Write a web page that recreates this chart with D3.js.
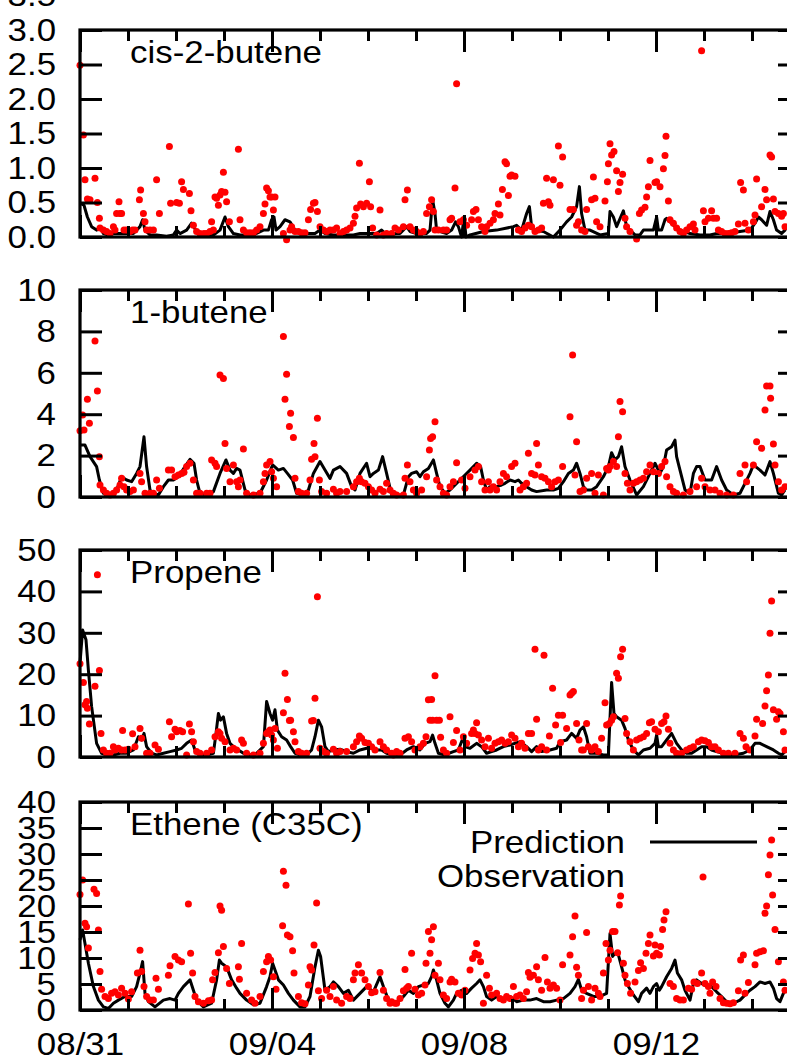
<!DOCTYPE html>
<html><head><meta charset="utf-8">
<script src="https://cdn.jsdelivr.net/npm/d3@7"></script>
<style>body{margin:0;background:#fff}svg{display:block;overflow:hidden}</style>
</head><body>
<svg id="chart" width="787" height="1063"></svg>
<script>
// ---------------- data ----------------
const seriesNames = ["cis-2-butene", "1-butene", "Propene", "Ethene (C35C)"];
const legendLabels = ["Prediction", "Observation"];
const startDay = "2012/08/31", endDay = "2012/09/15";
const majorTickLabels = ["08/31", "09/04", "09/08", "09/12"];
const yMaxes = [3, 10, 50, 40];
const cisTicks = [0, 0.5, 1, 1.5, 2, 2.5, 3, 3.5];
const buteneTicks = [0, 2, 4, 6, 8, 10];
const propeneTicks = [0, 10, 20, 30, 40, 50];
const etheneTicks = [0, 5, 10, 15, 20, 25, 30, 35, 40];
const tickFormats = [".1f", "d", "d", "d"];

// [hours since 08/31 00:00, value]
const cis2ButeneObs = [[0,2.49],[1.7,1.48],[2.5,0.83],[3.7,0.55],[5,0.54],[7.5,0.85],[8.7,0.50],[9.7,0.27],[10,0.13],[11.7,0.10],[13.3,0.08],[15,0.05],[16.7,0.15],[17.5,0.10],[18.3,0.34],[19.5,0.51],[20,0.34],[20.8,0.34],[22,0.10],[23.3,0.10],[25,0.08],[26.3,0.10],[27.5,0.10],[29.7,0.54],[30.3,0.68],[31.7,0.34],[32.5,0.22],[33.3,0.10],[35,0.10],[36.7,0.10],[38.3,0.83],[39.7,0.34],[44.7,1.31],[45.3,0.49],[48.3,0.50],[49.7,0.49],[50.8,0.80],[51.7,0.69],[54.7,0.63],[55.5,0.38],[56.7,0.17],[58.3,0.08],[60,0.05],[62,0.05],[63.3,0.05],[65,0.08],[65.8,0.22],[66.7,0.10],[67.5,0.58],[68.3,0.56],[69.2,0.46],[70,0.61],[70.8,0.66],[71.7,0.94],[72.5,0.65],[73.3,0.51],[74.7,0.22],[79.2,1.27],[80,0.25],[81.7,0.10],[83.3,0.06],[85,0.06],[86.7,0.06],[88.3,0.10],[90,0.15],[91.7,0.34],[92.5,0.48],[93.3,0.71],[94.2,0.67],[95,0.58],[95.8,0.58],[96.7,0.39],[97.5,0.58],[101.7,0.05],[103.3,-0.04],[105,0.10],[105.8,0.15],[107.5,0.08],[109.2,0.08],[110.8,0.06],[112.5,0.06],[114.2,0.25],[115.3,0.40],[116.7,0.49],[117.5,0.50],[118.7,0.37],[120,0.15],[121.7,0.10],[123.3,0.08],[125,0.10],[126.7,0.10],[128.3,0.13],[130,0.05],[131.7,0.08],[133.3,0.10],[135,0.13],[136.7,0.20],[137.5,0.30],[138.3,0.42],[139.7,1.07],[140.3,0.48],[141.7,0.44],[143.3,0.49],[144.7,0.80],[145.3,0.44],[146.3,0.13],[148.3,0.03],[150,0.39],[151.7,0.03],[153.3,0.05],[155.8,0.05],[157.5,0.13],[159.2,0.10],[161.7,0.15],[162.5,0.54],[163.7,0.68],[165,0.15],[166.7,0.10],[168.3,0.08],[170,0.05],[171.7,0.08],[173.3,0.34],[174.7,0.44],[175.8,0.54],[176.7,0.37],[177.5,0.10],[179.2,0.10],[181.7,0.10],[183.3,0.10],[185,0.25],[185.8,0.27],[187.5,0.71],[188.3,2.22],[190,0.22],[191.7,0.25],[193.3,0.17],[195.8,0.25],[196.7,0.37],[198,0.40],[199.2,0.25],[200.8,0.15],[202.5,0.08],[203.3,0.15],[205,0.20],[206.7,0.25],[207.5,0.34],[209.2,0.48],[210,0.32],[211.2,0.69],[212.5,1.09],[213.3,1.06],[214.2,0.60],[215,0.88],[215.8,0.90],[217.5,0.88],[219.2,0.10],[220.8,0.08],[222.5,0.13],[224.2,0.17],[225.8,0.15],[227.5,0.08],[229.2,0.10],[230.8,0.13],[231.7,0.49],[233.3,0.85],[234.2,0.51],[235,0.46],[236.7,0.83],[239.2,1.32],[240,0.75],[241.3,1.16],[245,0.40],[246.7,0.40],[248.3,0.17],[249.2,0.22],[250.8,0.10],[252.5,0.08],[253.3,0.40],[255.8,0.54],[256.7,0.87],[257.5,0.56],[258.3,0.22],[260,0.15],[262.5,0.52],[263.7,0.80],[264.2,1.06],[265,1.35],[265.8,1.19],[267,1.24],[268.3,0.96],[269.2,0.66],[270,0.79],[271.3,0.91],[272.5,0.27],[273.3,0.15],[275,0.08],[278.3,-0.03],[279.7,0.34],[280.8,0.39],[282.5,0.43],[283.3,0.58],[284.2,0.73],[285,1.11],[287.5,0.79],[288.3,0.80],[290,0.73],[291.7,0.99],[292.5,1.18],[293,1.46],[294.2,0.52],[295,0.25],[296.7,0.20],[298.3,0.13],[300,0.08],[301.7,0.05],[303.3,0.10],[305,0.15],[306.7,0.19],[307.5,0.10],[310.8,2.70],[311.7,0.38],[312.5,0.22],[314.2,0.27],[315.8,0.38],[316.7,0.27],[318.3,0.27],[319.2,0.10],[320.8,0.08],[322.5,0.05],[324.2,0.05],[325.8,0.06],[327.5,0.08],[329.2,0.19],[330.3,0.79],[331.7,0.68],[332.5,0.20],[334.2,0.10],[336.7,0.22],[337.5,0.32],[338.3,0.84],[340.8,0.44],[342.5,0.69],[343.3,0.54],[345,1.19],[345.8,1.16],[346.7,0.55],[347.5,0.37],[349.2,0.34],[350.8,0.30],[351.7,0.34],[352.5,0.15]];
const cis2ButenePred = [[0,0.49],[2,0.46],[3.7,0.29],[5.8,0.15],[8.3,0.10],[10,0.15],[11.7,0.05],[14.2,0.03],[16.7,0.05],[20,0.05],[23.3,0.05],[26.7,0.05],[30,0.15],[31.3,0.25],[32.5,0.10],[35,0.03],[38.3,0.03],[43.3,0.01],[46.7,0.03],[48.3,0.10],[50,0.05],[53.3,0.10],[55.8,0.20],[58.3,0.08],[61.7,0.03],[66.7,0.03],[70,0.10],[72.5,0.29],[74.2,0.15],[76.7,0.05],[80,0.03],[86.7,0.03],[91.7,0.10],[94.2,0.10],[95.8,0.25],[97,0.29],[98,0.10],[100,0.15],[102.5,0.25],[105,0.22],[107.5,0.10],[110,0.05],[113.3,0.05],[117.5,0.05],[120,0.10],[122.5,0.05],[126.7,0.03],[131.7,0.03],[136.7,0.03],[140,0.05],[143.3,0.05],[148.3,0.05],[150.8,0.10],[153.3,0.03],[158.3,0.05],[160,0.05],[163.3,0.15],[165,0.08],[168.3,0.05],[173.3,0.05],[175,0.10],[176.3,0.54],[177.5,0.34],[178.3,0.10],[180,0.08],[183.3,0.05],[185.8,0.10],[187.8,0.22],[189.2,0.15],[190.8,0.00],[192,0.29],[193,0.00],[195,0.03],[201.7,0.08],[208.3,0.10],[216.7,0.15],[218.3,0.17],[220.8,0.10],[223.3,0.34],[224.7,0.44],[225.8,0.15],[226.7,0.10],[231.7,0.08],[236.7,0.00],[240,0.10],[243.3,0.22],[245.8,0.29],[248.3,0.44],[249.7,0.73],[250.8,0.34],[252.5,0.10],[255,0.10],[260,0.03],[264.2,0.05],[265,0.37],[266.7,0.29],[268.3,0.15],[271.7,0.38],[273.3,0.15],[275,0.10],[277.5,0.03],[280,0.03],[281.7,0.10],[286.7,0.10],[288.3,0.29],[289.2,0.10],[290.8,0.10],[292.5,0.25],[293.3,0.27],[296.7,0.17],[300,0.10],[305,0.05],[310,0.03],[315,0.03],[318.3,0.05],[323.3,0.05],[330,0.08],[335,0.10],[337.5,0.20],[339.2,0.29],[340.8,0.25],[343.3,0.17],[345,0.37],[346.7,0.25],[348.3,0.10],[350.8,0.05],[352.5,0.10],[353.3,0.15]];

const butene1Obs = [[0,3.2],[1.3,3.96],[2,3.24],[3.7,4.72],[4.7,3.56],[7.5,7.54],[8.7,5.12],[9.7,1.95],[10,0.58],[11.7,0.34],[13.3,0.18],[15,0.10],[16.7,0.18],[18.3,0.34],[20,0.58],[20.8,0.90],[22,0.50],[23.3,0.34],[25,0.26],[26.7,0.34],[30,1.14],[30.8,0.74],[32.5,0.18],[35,0.18],[36.7,0.18],[38.3,0.82],[39.7,0.42],[44.2,1.30],[45.8,1.30],[47.5,0.98],[49.2,1.06],[50.8,1.14],[52,1.19],[53.3,1.47],[55,1.63],[56.7,0.82],[58.3,0.18],[60,0.18],[63.3,0.18],[65,0.18],[65.8,1.79],[67.5,1.63],[68.3,1.47],[70,5.89],[71.7,5.73],[72.5,2.59],[73.3,1.38],[75,0.74],[76.7,1.55],[78.3,0.74],[79.2,0.50],[80,0.82],[81.7,2.32],[83.3,0.18],[86.7,0.10],[90,0.18],[91.7,0.74],[92.5,1.14],[93.3,1.55],[95,1.71],[95.8,1.22],[96.7,0.90],[98.3,0.50],[101.7,7.75],[102.5,4.72],[103.3,5.93],[104.7,3.40],[105.3,4.04],[106.7,2.87],[107.5,0.90],[109.2,0.26],[110.8,0.18],[113.3,0.18],[115,0.82],[115.8,1.82],[117,2.59],[117.5,1.95],[118.7,3.80],[119.7,0.82],[120.8,0.26],[123.3,0.18],[126.7,0.37],[128.3,0.18],[130,0.26],[133.3,0.26],[136.7,0.50],[138.3,0.74],[139.7,0.90],[140.8,0.74],[142.5,0.66],[144.2,0.50],[145.8,0.34],[147.5,0.18],[150,0.37],[151.7,0.26],[153.3,0.66],[155,0.34],[156.7,0.18],[158.3,0.10],[161.7,0.10],[162.5,0.90],[163.7,1.55],[165,0.74],[166.7,0.34],[168.3,0.18],[170.8,0.34],[173.3,0.98],[174.7,2.27],[175.3,2.83],[176.3,2.91],[177.5,3.64],[178.3,0.82],[180,0.50],[181.7,0.18],[183.3,0.10],[185,0.50],[186.7,0.74],[188.3,1.66],[190.8,0.82],[192.5,0.42],[195,0.98],[197.5,1.30],[199.2,1.47],[200.8,0.74],[202.5,0.34],[204.2,0.74],[205,0.34],[206.7,0.50],[208.3,0.34],[210,0.74],[211.7,1.14],[213.3,0.98],[215.8,1.47],[217.5,1.63],[220,0.34],[221.7,0.50],[223.3,0.66],[224.2,2.11],[225.8,1.14],[227.5,1.06],[228.3,2.59],[229.2,1.55],[230.8,0.98],[232.5,0.90],[234.2,0.74],[235.8,0.50],[237.5,0.74],[239.2,0.82],[241.3,1.47],[245,3.88],[246.3,6.86],[247.5,1.06],[248.3,2.67],[250,0.26],[251.7,0.34],[253.3,0.90],[255.8,1.14],[257.5,0.18],[259.2,1.06],[261.7,0.10],[263.3,1.38],[264.2,1.30],[265,1.47],[266.7,1.71],[268.3,1.47],[269.2,2.91],[270,4.61],[271.3,4.12],[272.5,1.14],[273.7,0.66],[275,0.34],[276.7,0.66],[278.3,0.74],[280,0.82],[281.7,0.90],[283.3,1.22],[285,1.55],[286.7,1.22],[289.2,1.14],[290.8,1.47],[292.5,1.71],[293.3,0.98],[295,0.50],[296.7,0.26],[298.3,0.18],[301.7,0.10],[305,0.26],[308.3,0.50],[310.8,0.90],[312.5,0.50],[315,0.34],[317.5,0.34],[320,0.18],[323.3,0.10],[326.7,0.10],[330,1.14],[332.5,1.55],[333.3,0.74],[336.7,1.55],[338.3,2.67],[340.8,2.35],[342.5,4.20],[343.3,5.36],[345,5.36],[345.3,4.77],[346.7,2.56],[347.5,1.55],[349.2,0.74],[350.8,0.34],[352.5,0.50]];
const butene1Pred = [[0,2.51],[2.5,2.51],[5,1.95],[8.3,1.47],[9.7,0.82],[11.7,0.18],[15,0.10],[18.3,0.34],[20.8,0.98],[23.3,0.82],[25.8,0.74],[28.3,1.14],[30,1.47],[32,2.91],[33.3,1.47],[35,0.34],[36.7,0.18],[39.2,0.10],[41.7,0.50],[44.2,0.82],[46.7,0.82],[49.2,0.98],[52.5,1.47],[55,1.82],[57,1.63],[58.3,0.82],[60,0.18],[63.3,0.10],[66.7,0.26],[70,1.14],[73,1.79],[75,1.30],[76.7,1.14],[78.3,1.38],[80,1.30],[82.5,0.34],[85,0.10],[90,0.18],[93.3,0.82],[96.3,1.55],[99.2,1.30],[101.7,1.38],[103.7,1.14],[106.3,0.82],[108.3,0.18],[111.7,0.10],[114.2,0.34],[116.7,1.14],[120,1.71],[122.5,1.30],[125,0.90],[126.7,1.30],[130,1.47],[133.3,1.14],[135.8,0.50],[137.5,0.34],[140,1.14],[143.3,1.63],[145,0.98],[146.7,1.14],[149.2,1.30],[151.3,1.95],[153.3,1.14],[155.8,0.10],[158.3,0.10],[161.7,0.10],[164.2,0.98],[165.8,1.14],[168.3,1.22],[170,0.98],[171.7,1.22],[174.2,1.38],[176.7,1.79],[178.3,1.14],[180,0.50],[182.5,0.18],[185,0.34],[187.5,0.58],[190,0.82],[192.5,1.06],[195,1.30],[198.3,1.63],[200.3,1.47],[201.7,0.82],[203.3,0.34],[205,0.50],[208.3,0.50],[210.8,0.58],[212.5,0.66],[215,0.82],[217.5,0.74],[219.2,0.82],[220.8,0.66],[223.3,0.50],[225.8,0.34],[228.3,0.26],[233.3,0.34],[236.7,0.34],[239.2,0.42],[241.7,0.74],[244.2,1.14],[246.7,1.30],[248.3,1.63],[250,1.14],[251.7,0.50],[253.3,0.34],[255.8,0.34],[258.3,0.50],[261.7,0.98],[264.2,1.47],[265.8,2.14],[267.5,1.79],[269.2,1.95],[270.8,2.43],[272.5,1.47],[275,0.82],[278.3,0.10],[281.7,0.50],[285,1.14],[287.5,1.63],[290,1.14],[291.7,1.47],[293.3,2.27],[295.8,2.43],[297.5,2.75],[298.3,1.95],[300,1.30],[302.5,0.34],[305,0.18],[306.7,1.14],[308.3,1.47],[310,1.47],[312.5,0.82],[315.8,0.82],[318.3,1.47],[320.8,0.82],[323.3,0.34],[326.7,0.10],[330,0.18],[332.5,0.66],[335,1.14],[336.7,1.55],[340,1.30],[342.5,1.06],[345,1.71],[346.7,1.14],[349.2,0.18],[350.8,0.10],[352.5,0.34]];

const propeneObs = [[0,22.5],[1.7,18.0],[2.5,12.6],[3.3,13.4],[3.7,11.8],[4.7,8.0],[7.5,17.1],[8.7,44.0],[9.7,20.9],[10.5,5.7],[11.7,1.7],[13.3,0.9],[15,0.9],[16.7,2.5],[17.5,1.7],[19.2,2.1],[20.8,1.7],[21.3,6.4],[22.5,1.7],[24.2,1.9],[26.3,5.6],[27.5,2.5],[30,6.9],[30.8,4.5],[33.3,0.9],[35,0.9],[37.5,2.9],[39.2,1.9],[44.7,8.5],[45.8,4.9],[47.5,6.7],[48.3,6.1],[50,6.4],[51.3,6.1],[53.3,0.5],[54.7,8.0],[55.8,6.1],[56.7,3.7],[58.3,1.3],[60,0.9],[63.3,0.9],[65.8,1.7],[67.5,4.9],[69.2,6.1],[70,5.7],[70.8,4.5],[72.5,3.7],[75,1.7],[76.7,2.1],[78.3,1.7],[80.8,4.1],[81.7,3.3],[83.3,0.9],[86.7,0.5],[90,0.9],[91.7,3.3],[93.3,5.7],[94.2,6.1],[95,6.5],[95.8,5.3],[96.7,4.1],[97.5,6.9],[98.7,2.1],[101.7,10.7],[102.5,20.2],[103.7,13.9],[104.7,8.8],[105.3,8.9],[106.7,6.1],[107.5,3.7],[109.2,1.3],[110.8,0.9],[113.3,0.9],[115.8,8.7],[116.7,8.8],[117.5,14.2],[118.7,38.7],[120,2.1],[121.7,1.3],[123.3,0.9],[126.7,1.9],[128.3,0.9],[130,1.3],[133.3,1.3],[136.7,2.5],[138.3,3.7],[139.7,5.1],[140.8,4.5],[142.5,3.5],[144.2,3.3],[145.8,2.5],[147.5,1.7],[150,3.7],[151.7,2.5],[153.3,1.7],[155.8,0.9],[156.7,0.5],[158.3,1.3],[160,0.9],[162.5,4.5],[164.2,4.9],[165.8,3.7],[167.5,1.7],[170,2.5],[171.7,3.3],[173,4.9],[174.2,13.8],[175,8.9],[175.8,13.9],[176.3,8.9],[177.5,19.6],[178.3,8.9],[179.7,8.9],[180.3,4.8],[181.7,1.7],[183.3,0.9],[185,9.7],[186.7,3.5],[188.3,6.4],[190,1.7],[191.7,4.9],[193.3,3.3],[195.8,5.7],[196.7,6.5],[197.5,5.7],[198.3,8.3],[199.2,5.3],[200.8,4.1],[202.5,2.5],[204.2,4.5],[205.8,2.1],[207.5,3.3],[209.2,3.7],[210.8,4.1],[212.5,3.3],[214.2,3.7],[215.8,5.3],[217.5,4.5],[219.2,2.5],[220.8,3.3],[222.5,2.1],[224.2,5.7],[225.8,5.7],[227.5,26.0],[228.3,9.1],[229.2,1.7],[230.8,2.5],[232,24.6],[233.3,1.7],[234.7,5.1],[236.3,16.6],[237.8,7.7],[239.2,10.1],[240.3,3.5],[241.3,10.1],[243.3,6.9],[245,15.0],[245.8,15.4],[246.7,15.8],[248.3,8.1],[249.5,4.1],[250.8,1.7],[251.7,1.7],[253.3,8.1],[254.2,2.5],[255.8,1.7],[257.5,2.5],[259.2,1.3],[260.8,4.5],[262.5,13.1],[263.3,7.7],[264.7,8.1],[265.8,8.9],[266.7,9.7],[268.3,20.2],[269.2,19.0],[270.3,24.2],[271.3,26.0],[272.5,9.3],[273.3,5.7],[275,3.7],[276.7,1.7],[278.3,4.1],[280,4.5],[281.7,4.9],[283.3,5.7],[284.7,8.3],[285.8,8.5],[287.5,6.7],[289.2,6.1],[290.8,8.1],[292,8.5],[293,9.9],[294.2,6.7],[295,3.3],[296.7,1.7],[298.3,0.9],[300.8,0.9],[303.3,1.7],[305,2.1],[306.7,2.5],[309.2,3.7],[310.8,4.1],[312.5,3.9],[314.2,3.5],[315.8,2.5],[317.5,2.5],[319.2,1.7],[321.7,0.9],[324.2,0.9],[327.5,0.9],[330,5.7],[331.7,4.5],[333,2.5],[335,1.7],[337.5,5.1],[338.3,9.1],[341.3,8.1],[342.5,12.3],[343.3,16.0],[344.2,19.8],[345,29.9],[345.8,37.7],[346.7,11.4],[348.3,9.1],[349.2,10.9],[350,10.5],[351.7,6.1],[352.5,1.7]];
const propenePred = [[0,22.6],[1.3,30.7],[3,28.3],[4.2,21.0],[5.8,12.2],[8.3,3.3],[10.8,0.9],[13.3,0.5],[16.7,0.5],[20,0.9],[23.3,0.9],[26.7,1.7],[29.2,4.9],[30.8,4.1],[32,5.7],[33.3,2.5],[35.8,0.9],[38.3,0.5],[41.7,0.9],[45,1.3],[48.3,1.7],[50.8,2.1],[53.3,3.3],[55.8,4.1],[57.5,1.7],[60,0.5],[63.3,0.5],[66.7,0.9],[68,5.7],[69.2,10.5],[70.3,8.9],[71.7,9.7],[73.3,5.7],[75,3.3],[76.7,2.5],[79.2,1.7],[81.7,0.9],[85,0.5],[88.3,0.9],[91.7,2.5],[93.3,13.4],[95,10.5],[96.3,8.9],[97.5,11.4],[98.7,6.5],[100.8,4.9],[103.3,4.1],[105.3,2.5],[107.5,0.9],[110,0.5],[113.3,0.5],[115.8,1.7],[117.5,4.9],[119.2,8.9],[120.8,7.3],[122.5,2.5],[124.2,1.3],[126.7,1.7],[130,1.9],[133.3,1.3],[136.7,0.9],[140,1.7],[143.3,2.1],[145.8,2.1],[148.3,1.7],[150.8,1.7],[153.3,0.9],[156.7,0.5],[160,0.5],[163.3,1.7],[166.7,2.5],[170,1.7],[172.5,3.3],[175,3.7],[176.3,5.3],[177.5,3.3],[179.2,0.9],[182.5,0.5],[186.7,1.3],[189.2,1.7],[191.7,4.9],[192.5,2.5],[195,2.1],[198.3,3.3],[200.8,2.5],[203.3,0.9],[205.8,1.3],[208.3,1.7],[211.7,2.5],[215,2.9],[220,3.7],[223.3,2.5],[225.8,1.3],[228.3,2.5],[230.8,1.3],[235,1.7],[238.3,2.1],[240,3.7],[243.3,4.1],[245.8,5.7],[248.3,4.5],[250,6.5],[251.7,7.3],[253.3,4.9],[255,0.9],[258.3,0.9],[261.7,0.5],[264.2,0.5],[265.8,18.0],[267,10.5],[268.3,9.7],[270.8,8.9],[272.5,6.9],[274.2,4.1],[276.7,1.7],[279.2,0.5],[281.7,1.7],[285,2.1],[287.5,3.3],[288.3,5.3],[289.2,2.5],[290.8,2.5],[293.3,4.1],[295.8,5.7],[298.3,3.3],[300.8,1.7],[303.3,0.9],[305.8,0.9],[308.3,1.7],[310.8,2.5],[313.3,2.5],[315.8,1.7],[318.3,1.3],[321.7,0.9],[326.7,0.5],[331.7,0.9],[335,1.7],[337.5,3.3],[340,3.3],[343.3,2.5],[346.7,1.7],[349.2,0.9],[350.8,0.5],[353.3,1.7]];

const etheneObs = [[0,22.2],[1.3,25.0],[2.5,16.7],[3.3,16.0],[4.2,11.9],[7,23.2],[8.3,22.4],[9.2,15.4],[10,7.4],[10.8,4.0],[12.5,2.6],[14.2,2.2],[15.8,3.2],[17.5,3.5],[19.2,2.9],[20.8,4.2],[22.5,3.2],[24.2,2.1],[25.8,3.5],[28.7,7.1],[30,11.5],[30.8,7.4],[32,4.5],[33.3,2.6],[35,1.9],[36.7,1.9],[38,6.1],[39.2,4.0],[44.2,6.7],[45,8.5],[47.5,10.3],[49.2,9.6],[50.8,9.3],[54.2,20.4],[55.3,10.9],[56.3,7.1],[57.5,2.6],[59.2,1.6],[61.7,1.3],[64.2,1.8],[65.8,1.9],[66.3,5.8],[67.5,7.2],[69.2,11.0],[70,20.0],[70.8,19.2],[71.7,12.2],[73.3,8.0],[74.7,5.1],[79.2,8.3],[79.7,5.9],[80.8,12.8],[83.3,3.2],[85.8,1.9],[87.5,1.3],[90,2.6],[91.7,7.4],[93.3,9.3],[94.2,10.3],[95.3,9.6],[96.7,6.4],[98,4.0],[101.3,16.2],[101.7,26.7],[103,24.0],[103.7,14.4],[105,14.1],[106.3,11.4],[107,7.1],[109.2,2.6],[110.8,1.4],[112.5,1.2],[114.2,4.8],[115,8.3],[115.8,7.7],[117,12.5],[118.3,20.6],[119.2,3.7],[120.8,2.2],[123.3,3.8],[125,2.6],[126.7,4.5],[128.3,1.9],[130.8,1.3],[133.3,2.6],[135,2.2],[136.7,5.8],[137.5,7.1],[139.2,8.7],[140.8,7.1],[142.5,5.8],[144.2,4.5],[145.8,3.3],[147.5,3.5],[150,7.2],[151.7,3.8],[153.3,2.2],[155,1.3],[155.8,1.6],[157.5,1.3],[158.3,1.3],[160,2.2],[161.7,3.7],[162.5,7.8],[163.3,4.2],[164.2,4.5],[165.8,10.9],[167.5,4.0],[169.2,2.9],[170.8,3.2],[172.5,4.8],[173,9.0],[174.2,15.1],[175,10.9],[175.8,13.5],[176.7,16.0],[177.5,6.7],[179.2,9.0],[180,5.8],[181.7,2.9],[183.3,2.2],[185,5.4],[185.8,5.9],[187.5,5.4],[189.2,3.2],[190.8,2.9],[192.5,3.8],[195,7.7],[196.3,9.9],[197.5,10.9],[198.3,12.8],[199.2,10.6],[200.3,9.3],[201.7,1.3],[203.3,6.7],[204.7,4.2],[205.8,2.9],[208.3,3.2],[210,2.2],[211.7,1.9],[213.3,2.6],[215,2.2],[216.7,4.5],[218.3,2.6],[220,2.9],[221.7,2.2],[223.3,3.5],[224.2,7.2],[225,6.3],[226.7,6.7],[228.3,8.3],[229.2,5.8],[230.8,3.8],[232.5,10.1],[233.7,5.4],[235,4.2],[236.7,4.8],[238.3,4.2],[240,1.9],[241.3,8.7],[245,10.6],[246.3,14.1],[247.5,18.1],[248.3,8.2],[249.2,6.7],[250.8,2.2],[251.7,3.8],[253.3,14.9],[254.2,4.5],[255.8,1.9],[257.5,4.2],[259.2,3.2],[260,2.6],[261.7,7.1],[263,12.8],[264.2,9.6],[265,11.5],[266.3,15.1],[267.5,15.1],[268.8,11.0],[269.7,20.2],[270.3,21.9],[271.7,9.0],[272.5,6.7],[273.7,5.1],[275.3,3.2],[277.5,5.4],[279.2,7.6],[280.3,9.1],[281.7,8.0],[283,10.9],[284.2,12.8],[285,14.4],[286.7,10.4],[287.5,12.5],[288.3,10.9],[289.7,10.6],[290.3,12.2],[291.3,15.5],[292,17.3],[293,18.9],[295,5.1],[296.7,4.5],[298.3,2.2],[300,1.9],[301.7,1.9],[304.2,4.2],[305.8,4.0],[307,5.4],[308.7,5.1],[310.8,7.1],[312.5,5.1],[314.2,4.5],[315,3.2],[316.3,5.4],[318,4.5],[320,2.2],[321.7,1.4],[323.3,1.3],[325,1.2],[326.7,1.4],[329.2,3.7],[330.3,9.6],[331.7,10.6],[332.5,3.2],[334.2,5.3],[337.5,8.7],[338.3,10.9],[340,11.2],[341.7,11.4],[342.5,18.6],[343.3,20.0],[344.2,26.0],[345,29.8],[345.8,32.7],[346.3,22.1],[347.5,15.5],[349.2,9.3],[351.7,5.4],[352.5,3.8]];
const ethenePred = [[0,13.5],[1.3,15.4],[2.5,12.8],[4.2,9.0],[6.7,4.5],[9.2,1.9],[11.7,0.6],[14.2,0.3],[16.7,1.3],[19.2,1.9],[22.5,2.6],[25.8,2.6],[28.3,4.5],[30,7.1],[31.3,9.3],[32.5,3.2],[34.2,1.6],[37.5,0.6],[41.7,1.9],[45,2.2],[47.5,1.9],[49.2,3.2],[51.7,4.5],[55,5.8],[56.7,3.8],[58.3,1.9],[61.7,0.6],[65.8,1.3],[68.3,5.8],[69.7,9.6],[70.8,9.0],[73.3,8.3],[75.8,5.8],[78.3,4.2],[80,3.2],[83.3,1.9],[86.7,1.0],[90,1.3],[93.3,4.5],[95,6.4],[96.3,9.0],[97.5,7.7],[99.2,5.8],[101.7,4.8],[104.2,3.2],[106.7,1.9],[110,0.6],[112.5,0.6],[115,2.6],[117.5,8.3],[119.2,11.5],[120.3,10.3],[122.5,3.8],[125,4.5],[126.7,5.4],[129.2,4.5],[131.7,3.2],[134.2,3.8],[136.7,1.9],[140,3.2],[143.3,4.5],[146.7,3.5],[150,6.4],[151.7,4.5],[154.2,1.9],[156.7,1.3],[158.3,1.3],[161.7,2.6],[164.2,3.8],[166.7,3.2],[169.2,4.5],[171.7,4.8],[174.2,5.1],[175.8,6.4],[176.7,7.7],[178.3,5.8],[180,3.2],[182.5,1.3],[184.2,0.6],[186.7,1.9],[188.3,3.2],[190.8,3.8],[193.3,3.2],[195.8,4.2],[198.3,5.1],[200,5.8],[201.7,4.5],[203.3,2.6],[205.8,1.9],[208.3,2.6],[211.7,1.9],[215,2.6],[218.3,1.6],[221.7,1.9],[225,1.9],[228.3,2.2],[231.7,1.6],[235,1.6],[238.3,1.9],[241.7,2.2],[245,3.2],[247.5,4.5],[249.2,5.9],[250.8,3.8],[253.3,3.2],[256.7,2.6],[260,2.6],[263.3,3.2],[265,14.7],[266.3,10.3],[267.5,10.9],[269.2,10.6],[270.8,8.3],[272.5,5.8],[274.2,4.5],[276.7,2.9],[279.2,1.6],[280.8,3.2],[283.3,4.2],[285,3.2],[286.7,4.5],[288.3,5.1],[289.7,3.8],[290.8,4.5],[293.3,6.4],[295.8,8.0],[297.5,9.6],[298.7,7.1],[300.8,5.8],[302.5,3.8],[305,1.9],[306.7,5.1],[308.3,5.8],[310.8,5.1],[313.3,4.5],[315.8,4.5],[318.3,3.5],[320.8,2.6],[323.3,1.6],[326.7,1.3],[330,1.9],[333.3,3.2],[335,3.8],[337.5,4.5],[340,5.4],[342.5,5.1],[345,5.4],[346.7,4.2],[348.3,2.2],[350,1.6],[351.7,3.2],[353.3,4.2]];

// ---------------- drawing ----------------
const obsSets = [cis2ButeneObs, butene1Obs, propeneObs, etheneObs];
const predSets = [cis2ButenePred, butene1Pred, propenePred, ethenePred];
const tickSets = [cisTicks, buteneTicks, propeneTicks, etheneTicks];

const FONT = "'Liberation Sans', Arial, Helvetica, sans-serif";
const FS = 32, SX = 1.09;
const L = 80, R = 800;
const panelTops = [30, 290, 550, 802];
const panelHeights = [207, 207, 207, 208];
const MAJ = 22, MIN = 11;
const LINE_W = 3, DOT_R = 3.5;

const parseDay = d3.utcParse("%Y/%m/%d");
const t0 = parseDay(startDay), t1 = parseDay(endDay);
const toDate = h => new Date(t0.getTime() + h * 3600e3);
const x = d3.scaleUtc().domain([t0, t1]).range([L, R]);
const majorDates = majorTickLabels.map(s => parseDay(startDay.slice(0, 5) + s));
const minorDates = d3.utcDay.range(t0, t1).filter(d => !majorDates.some(m => +m === +d));
const fmtDay = d3.utcFormat("%m/%d");

const svg = d3.select("#chart");

function styleAxis(g, sw) {
  g.select(".domain").remove();
  g.selectAll(".tick line").attr("stroke", "#000").attr("stroke-width", sw);
  g.selectAll("text").attr("font-family", FONT).attr("font-size", FS).attr("fill", "#000")
    .attr("transform", `scale(${SX},1)`);
}

panelTops.forEach((top, i) => {
  const h = panelHeights[i];
  const y = d3.scaleLinear().domain([0, yMaxes[i]]).range([top + h, top]);
  const g = svg.append("g");

  // prediction line
  const line = d3.line().x(d => x(toDate(d[0]))).y(d => y(d[1]));
  g.append("path").datum(predSets[i]).attr("d", line)
    .attr("fill", "none").attr("stroke", "#000").attr("stroke-width", LINE_W)
    .attr("stroke-linejoin", "round");

  // observations
  g.append("g").selectAll("circle").data(obsSets[i]).join("circle")
    .attr("cx", d => x(toDate(d[0]))).attr("cy", d => y(d[1]))
    .attr("r", DOT_R).attr("fill", "#ff0000");

  // frame
  g.append("rect").attr("x", L).attr("y", top).attr("width", R - L).attr("height", h)
    .attr("fill", "none").attr("stroke", "#000").attr("stroke-width", 3.2);

  // x axes (top and bottom), inward ticks
  const isLast = i === panelTops.length - 1;
  g.append("g").attr("transform", `translate(0,${top})`)
    .call(d3.axisTop(x).tickValues(majorDates).tickSize(-MAJ).tickFormat(""))
    .call(a => styleAxis(a, 3));
  g.append("g").attr("transform", `translate(0,${top})`)
    .call(d3.axisTop(x).tickValues(minorDates).tickSize(-MIN).tickFormat(""))
    .call(a => styleAxis(a, 3));
  g.append("g").attr("transform", `translate(0,${top + h})`)
    .call(d3.axisBottom(x).tickValues(majorDates).tickSize(-MAJ).tickPadding(22)
      .tickFormat(isLast ? fmtDay : ""))
    .call(a => styleAxis(a, 3));
  g.append("g").attr("transform", `translate(0,${top + h})`)
    .call(d3.axisBottom(x).tickValues(minorDates).tickSize(-MIN).tickFormat(""))
    .call(a => styleAxis(a, 3));

  // y axes (left with labels, right mirror)
  const fmt = d3.format(tickFormats[i]);
  const left = g.append("g").attr("transform", `translate(${L},0)`)
    .call(d3.axisLeft(y).tickValues(tickSets[i]).tickSize(-MAJ).tickPadding(22).tickFormat(fmt))
    .call(a => styleAxis(a, 3));
  left.selectAll(".tick").filter(d => d > yMaxes[i]).select("line").remove();
  g.append("g").attr("transform", `translate(${R},0)`)
    .call(d3.axisRight(y).tickValues(tickSets[i].filter(v => v <= yMaxes[i])).tickSize(-MAJ).tickFormat(""))
    .call(a => styleAxis(a, 3));

  // panel title
  g.append("text").attr("transform", `translate(130,${top + 33}) scale(${SX},1)`)
    .attr("font-family", FONT).attr("font-size", FS).attr("fill", "#000")
    .text(seriesNames[i]);

  // legend in last panel
  if (isLast) {
    const lg = g.append("g");
    lg.append("text").attr("transform", `translate(625,${top + 51}) scale(${SX},1)`)
      .attr("text-anchor", "end").attr("font-family", FONT).attr("font-size", FS)
      .attr("fill", "#000").text(legendLabels[0]);
    lg.append("line").attr("x1", 650).attr("x2", 757).attr("y1", top + 40).attr("y2", top + 40)
      .attr("stroke", "#000").attr("stroke-width", LINE_W);
    lg.append("text").attr("transform", `translate(625,${top + 85}) scale(${SX},1)`)
      .attr("text-anchor", "end").attr("font-family", FONT).attr("font-size", FS)
      .attr("fill", "#000").text(legendLabels[1]);
    lg.append("circle").attr("cx", 703).attr("cy", top + 75).attr("r", DOT_R).attr("fill", "#ff0000");
  }
});
</script>
</body></html>
